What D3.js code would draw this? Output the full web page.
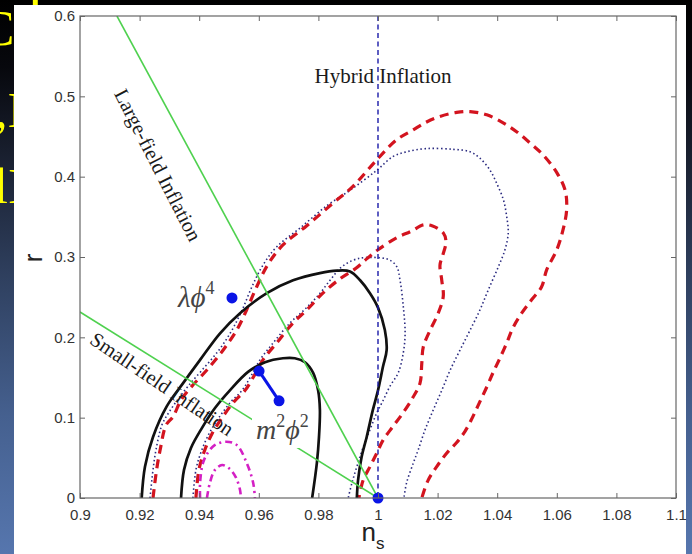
<!DOCTYPE html>
<html>
<head>
<meta charset="utf-8">
<script src="https://cdn.jsdelivr.net/npm/d3@7/dist/d3.min.js"></script>
<style>
  html, body { margin: 0; padding: 0; background: #000; }
  svg { display: block; }
</style>
</head>
<body>
<svg id="chart" width="692" height="554"></svg>
<script>
// ---- axis ticks ----
const xTicks = [0.9, 0.92, 0.94, 0.96, 0.98, 1.0, 1.02, 1.04, 1.06, 1.08, 1.1];
const xTickLabels = ["0.9", "0.92", "0.94", "0.96", "0.98", "1", "1.02", "1.04", "1.06", "1.08", "1.1"];
const yTicks = [0, 0.1, 0.2, 0.3, 0.4, 0.5, 0.6];
const yTickLabels = ["0", "0.1", "0.2", "0.3", "0.4", "0.5", "0.6"];

// ---- confidence contours, [n_s, r] ----
const black68 = [[0.9339,0],[0.9349,0.035],[0.9372,0.062],[0.9409,0.087],[0.9453,0.112],[0.9503,0.134],
  [0.9564,0.157],[0.9621,0.169],[0.9681,0.174],[0.9721,0.174],[0.9755,0.169],[0.9782,0.156],[0.9799,0.134],
  [0.9805,0.110],[0.9802,0.076],[0.9795,0.044],[0.9779,0]];
const black95 = [[0.9207,0],[0.9218,0.039],[0.9245,0.076],[0.9291,0.114],[0.9346,0.143],[0.9403,0.172],
  [0.9470,0.205],[0.9537,0.230],[0.9627,0.255],[0.9715,0.271],[0.9805,0.280],[0.9861,0.283],[0.9906,0.282],
  [0.9940,0.271],[0.9973,0.255],[1.0000,0.237],[1.0023,0.209],[1.0029,0.184],[1.0017,0.164],[1.0000,0.134],
  [0.9983,0.110],[0.9962,0.076],[0.9945,0.051],[0.9933,0.022],[0.9929,0]];
const red68 = [[0.9389,0],[0.9399,0.035],[0.9416,0.057],[0.9443,0.080],[0.9477,0.100],[0.9517,0.120],
  [0.9554,0.134],[0.9584,0.152],[0.9614,0.172],[0.9660,0.193],[0.9715,0.218],[0.9761,0.234],[0.9815,0.255],
  [0.9873,0.273],[0.9926,0.286],[0.9963,0.298],[1.0000,0.309],[1.0063,0.324],[1.0111,0.332],[1.0152,0.340],
  [1.0181,0.339],[1.0219,0.330],[1.0228,0.319],[1.0218,0.303],[1.0208,0.290],[1.0214,0.271],[1.0219,0.251],
  [1.0202,0.230],[1.0175,0.209],[1.0152,0.188],[1.0147,0.168],[1.0141,0.143],[1.0117,0.125],[1.0084,0.106],
  [1.0050,0.089],[1.0017,0.072],[0.9996,0.056],[0.9973,0.039],[0.9950,0.022],[0.9936,0]];
const red95 = [[0.9245,0],[0.9257,0.035],[0.9269,0.060],[0.9289,0.091],[0.9312,0.101],[0.9339,0.122],
  [0.9375,0.139],[0.9425,0.159],[0.9480,0.184],[0.9526,0.209],[0.9559,0.234],[0.9593,0.263],[0.9631,0.291],
  [0.9681,0.315],[0.9761,0.339],[0.9849,0.367],[0.9916,0.388],[0.9996,0.421],[1.0063,0.446],[1.0117,0.458],
  [1.0163,0.468],[1.0208,0.475],[1.0264,0.480],[1.0309,0.481],[1.0365,0.477],[1.0420,0.467],[1.0465,0.456],
  [1.0510,0.442],[1.0554,0.427],[1.0600,0.405],[1.0628,0.383],[1.0633,0.359],[1.0621,0.334],[1.0600,0.309],
  [1.0566,0.284],[1.0549,0.263],[1.0516,0.247],[1.0482,0.230],[1.0453,0.212],[1.0432,0.193],[1.0409,0.174],
  [1.0386,0.156],[1.0366,0.139],[1.0342,0.120],[1.0318,0.101],[1.0292,0.083],[1.0264,0.069],[1.0231,0.056],
  [1.0197,0.039],[1.0168,0.022],[1.0147,0]];
const blue68 = [[0.9379,0],[0.9389,0.035],[0.9406,0.057],[0.9433,0.080],[0.9466,0.100],[0.9507,0.120],
  [0.9544,0.134],[0.9574,0.152],[0.9604,0.172],[0.9648,0.193],[0.9705,0.218],[0.9752,0.234],[0.9799,0.252],
  [0.9839,0.271],[0.9879,0.288],[0.9933,0.298],[1.0007,0.299],[1.0040,0.296],[1.0063,0.288],[1.0074,0.271],
  [1.0085,0.238],[1.0091,0.205],[1.0085,0.181],[1.0068,0.156],[1.0040,0.139],[1.0018,0.122],[0.9996,0.106],
  [0.9973,0.085],[0.9951,0.064],[0.9929,0.039],[0.9912,0.018],[0.9900,0]];
const blue95 = [[0.9235,0],[0.9245,0.035],[0.9255,0.060],[0.9275,0.091],[0.9299,0.107],[0.9329,0.123],
  [0.9362,0.139],[0.9409,0.159],[0.9466,0.184],[0.9510,0.209],[0.9544,0.234],[0.9577,0.263],[0.9614,0.290],
  [0.9661,0.313],[0.9738,0.336],[0.9829,0.364],[0.9906,0.383],[0.9996,0.408],[1.0050,0.425],[1.0096,0.431],
  [1.0163,0.435],[1.0253,0.434],[1.0309,0.431],[1.0342,0.423],[1.0376,0.408],[1.0398,0.392],[1.0421,0.371],
  [1.0432,0.350],[1.0437,0.330],[1.0426,0.309],[1.0404,0.288],[1.0370,0.259],[1.0342,0.234],[1.0309,0.209],
  [1.0275,0.184],[1.0242,0.159],[1.0214,0.134],[1.0186,0.110],[1.0158,0.085],[1.0135,0.060],[1.0119,0.044],
  [1.0096,0.019],[1.0087,0]];
const magenta68 = [[0.9426,0],[0.9436,0.019],[0.9453,0.035],[0.9477,0.041],[0.9503,0.036],[0.9524,0.025],
  [0.9537,0.010],[0.9540,0]];
const magenta95 = [[0.9403,0],[0.9403,0.019],[0.9413,0.044],[0.9430,0.057],[0.9453,0.066],[0.9490,0.070],
  [0.9526,0.066],[0.9559,0.044],[0.9581,0.019],[0.9587,0]];

// ---- model lines and predictions ----
const largeFieldLine = [[0.9124, 0.6], [1.0, 0]];
const smallFieldLine = [[0.9, 0.2316], [1.0, 0]];
const hybridNs = 1.0;
const lambdaPhi4 = [[0.951, 0.249]];
const m2Phi2 = [[0.9601, 0.158], [0.9668, 0.121]];
const harrisonZeldovich = [[1.0, 0]];

const svg = d3.select("#chart");
const W = 692, H = 554;
const plot = { left: 80, right: 676, top: 16, bottom: 498 };

// slide backdrop
const defs = svg.append("defs");
const grad = defs.append("linearGradient").attr("id", "slideBg")
  .attr("x1", 0).attr("y1", 0).attr("x2", 0).attr("y2", 1);
[[0, "#000000"], [0.12, "#07080d"], [0.3, "#1b2233"], [0.5, "#2f405f"], [0.75, "#45608f"], [1, "#5676ae"]]
  .forEach(([o, c]) => grad.append("stop").attr("offset", o).attr("stop-color", c));
svg.append("rect").attr("width", W).attr("height", H).attr("fill", "url(#slideBg)");

// slide title text peeking out behind the figure
const slideText = svg.append("g").attr("fill", "#ffff00")
  .attr("font-family", "Liberation Serif, serif").attr("font-size", 50);
slideText.append("text").attr("x", -19).attr("y", 45).text("C");
slideText.append("text").attr("x", -5).attr("y", 127).text(",I");
slideText.append("text").attr("x", -6).attr("y", 203).text("lI");
slideText.append("text").attr("x", 27).attr("y", 33).attr("font-size", 60).text("l");

// figure panel
svg.append("rect").attr("x", 14).attr("y", 5).attr("width", 672).attr("height", 560).attr("fill", "#ffffff");

const x = d3.scaleLinear().domain([0.9, 1.1]).range([plot.left, plot.right]);
const y = d3.scaleLinear().domain([0, 0.6]).range([plot.bottom, plot.top]);

defs.append("clipPath").attr("id", "plotClip").append("rect")
  .attr("x", plot.left).attr("y", plot.top)
  .attr("width", plot.right - plot.left).attr("height", plot.bottom - plot.top);

const g = svg.append("g").attr("clip-path", "url(#plotClip)");
const smooth = d3.line().x(d => x(d[0])).y(d => y(d[1])).curve(d3.curveCatmullRom.alpha(0.5));
const straight = d3.line().x(d => x(d[0])).y(d => y(d[1]));

function contour(data, color, width, dash) {
  g.append("path").attr("d", smooth(data)).attr("fill", "none")
    .attr("stroke", color).attr("stroke-width", width)
    .attr("stroke-dasharray", dash).attr("stroke-linejoin", "round");
}

contour(blue95, "#2b2b80", 1.6, "1.5,2.6");
contour(blue68, "#2b2b80", 1.6, "1.5,2.6");
contour(red95, "#d3141f", 3.2, "9,6");
contour(red68, "#d3141f", 3.2, "9,6");
contour(magenta95, "#d420c4", 2.6, "7,4,2,4");
contour(magenta68, "#d420c4", 2.6, "7,4,2,4");
contour(black95, "#111111", 2.7, null);
contour(black68, "#111111", 2.7, null);

// hybrid inflation boundary at n_s = 1
g.append("line")
  .attr("x1", x(hybridNs)).attr("x2", x(hybridNs)).attr("y1", y(0.6)).attr("y2", y(0))
  .attr("stroke", "#1a1aa8").attr("stroke-width", 1.4).attr("stroke-dasharray", "5,3.5");

// large-field / small-field boundaries
[largeFieldLine, smallFieldLine].forEach(l => {
  g.append("path").attr("d", straight(l)).attr("fill", "none")
    .attr("stroke", "#4fd14f").attr("stroke-width", 1.6);
});

// text labels
const serif = "Liberation Serif, Times New Roman, serif";
svg.append("text").attr("x", 383).attr("y", 83).attr("text-anchor", "middle")
  .attr("font-family", serif).attr("font-size", 21).attr("fill", "#1a1a1a").text("Hybrid Inflation");
svg.append("text").attr("transform", "translate(158,165) rotate(63)").attr("text-anchor", "middle")
  .attr("dominant-baseline", "central")
  .attr("font-family", serif).attr("font-size", 20.5).attr("fill", "#1a1a1a").text("Large-field Inflation");
svg.append("text").attr("transform", "translate(162,384) rotate(34)").attr("text-anchor", "middle")
  .attr("dominant-baseline", "central")
  .attr("font-family", serif).attr("font-size", 20.5).attr("fill", "#1a1a1a").text("Small-field Inflation");

// m^2 phi^2 label with its own backing
svg.append("rect").attr("x", 252).attr("y", 408).attr("width", 64).attr("height", 40).attr("fill", "#ffffff");
const mLabel = svg.append("text").attr("x", 256).attr("y", 439)
  .attr("font-family", serif).attr("font-style", "italic").attr("font-size", 28).attr("fill", "#444");
mLabel.append("tspan").text("m");
mLabel.append("tspan").attr("font-size", 18).attr("font-style", "normal").attr("dy", -12).text("2");
mLabel.append("tspan").attr("dy", 12).text("\u03D5");
mLabel.append("tspan").attr("font-size", 18).attr("font-style", "normal").attr("dy", -12).text("2");

const lLabel = svg.append("text").attr("x", 178).attr("y", 307)
  .attr("font-family", serif).attr("font-style", "italic").attr("font-size", 29).attr("fill", "#444");
lLabel.append("tspan").text("\u03BB\u03D5");
lLabel.append("tspan").attr("font-size", 18).attr("font-style", "normal").attr("dy", -13).text("4");

// model predictions
svg.append("path").attr("d", straight(m2Phi2)).attr("fill", "none")
  .attr("stroke", "#0a14e6").attr("stroke-width", 3);
svg.selectAll("circle.pred").data(lambdaPhi4.concat(m2Phi2, harrisonZeldovich)).enter()
  .append("circle").attr("class", "pred")
  .attr("cx", d => x(d[0])).attr("cy", d => y(d[1])).attr("r", 5.5).attr("fill", "#0a14e6");

// axes (ticks pointing inward on all four sides)
const axisColor = "#666";
const labelFont = "Liberation Sans, Arial, sans-serif";
function styleAxis(sel) {
  sel.select(".domain").remove();
  sel.selectAll(".tick line").attr("stroke", axisColor);
  sel.selectAll(".tick text").attr("fill", "#333").attr("font-family", labelFont).attr("font-size", 15);
}
svg.append("g").attr("transform", `translate(0,${plot.bottom})`)
  .call(d3.axisBottom(x).tickValues(xTicks).tickFormat((d, i) => xTickLabels[i]).tickSizeInner(-5).tickSizeOuter(0).tickPadding(11))
  .call(styleAxis);
svg.append("g").attr("transform", `translate(0,${plot.top})`)
  .call(d3.axisTop(x).tickValues(xTicks).tickFormat("").tickSizeInner(-5).tickSizeOuter(0))
  .call(styleAxis);
svg.append("g").attr("transform", `translate(${plot.left},0)`)
  .call(d3.axisLeft(y).tickValues(yTicks).tickFormat((d, i) => yTickLabels[i]).tickSizeInner(-5).tickSizeOuter(0).tickPadding(5))
  .call(styleAxis);
svg.append("g").attr("transform", `translate(${plot.right},0)`)
  .call(d3.axisRight(y).tickValues(yTicks).tickFormat("").tickSizeInner(-5).tickSizeOuter(0))
  .call(styleAxis);
svg.append("rect").attr("x", plot.left).attr("y", plot.top)
  .attr("width", plot.right - plot.left).attr("height", plot.bottom - plot.top)
  .attr("fill", "none").attr("stroke", axisColor).attr("stroke-width", 1.2);

// axis titles
const xt = svg.append("text").attr("x", 373).attr("y", 541).attr("text-anchor", "middle")
  .attr("font-family", labelFont).attr("font-size", 26).attr("fill", "#222");
xt.append("tspan").text("n");
xt.append("tspan").attr("font-size", 17).attr("dy", 8).text("s");
svg.append("text").attr("transform", "translate(42,258) rotate(-90)").attr("text-anchor", "middle")
  .attr("font-family", labelFont).attr("font-size", 26).attr("fill", "#222").text("r");
</script>
</body>
</html>
